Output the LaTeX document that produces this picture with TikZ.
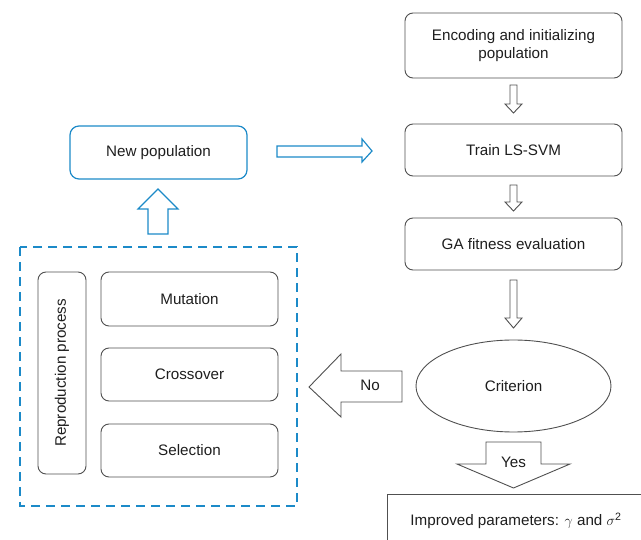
\documentclass[tikz,border=0pt]{standalone}
\usepackage{fontspec}
\setmainfont{Liberation Sans}
\usetikzlibrary{shapes.geometric}
\definecolor{bluec}{HTML}{1C8AC8}
\definecolor{grayc}{HTML}{505050}
\definecolor{txtc}{HTML}{1E1E1E}
\begin{document}
\begin{tikzpicture}[x=1pt,y=-1pt,
  every node/.style={text=txtc,font=\fontsize{15.2}{18.5}\selectfont},
  gbox/.style={draw=grayc,line width=0.9pt,rounded corners=8pt,inner sep=0pt},
  bbox/.style={draw=bluec,line width=1.2pt,rounded corners=9pt,inner sep=0pt},
  garrow/.style={draw=grayc,line width=0.9pt,fill=white,line join=miter},
  barrow/.style={draw=bluec,line width=1.2pt,fill=white,line join=miter}]
\useasboundingbox (0,0) rectangle (641,540);
\clip (0,0) rectangle (641,540);
% right column
\node[gbox,minimum width=217pt,minimum height=65pt,align=center] (enc) at (513.5,45.5) {Encoding and initializing\\population};
\node[gbox,minimum width=217pt,minimum height=52pt] (train) at (513.5,150) {Train LS-SVM};
\node[gbox,minimum width=217pt,minimum height=52pt] (ga) at (513.5,244) {GA fitness evaluation};
\node[ellipse,draw=grayc,line width=0.9pt,minimum width=195pt,minimum height=92pt,inner sep=0pt] (crit) at (513.5,386) {Criterion};
\node[draw=grayc,line width=0.9pt,minimum width=280pt,minimum height=70pt,inner sep=0pt,anchor=north west] (imp) at (387,494) {};
\node at (516,521) {Improved parameters: $\gamma$ and $\sigma$\textsuperscript{2}};
% small down arrows
\draw[garrow] (510,85) -- (517,85) -- (517,104) -- (522,104) -- (513.5,113) -- (505,104) -- (510,104) -- cycle;
\draw[garrow] (510,185) -- (517,185) -- (517,202) -- (522,202) -- (513.5,211) -- (505,202) -- (510,202) -- cycle;
\draw[garrow] (510,280) -- (517,280) -- (517,318) -- (522,318) -- (513.5,328) -- (505,318) -- (510,318) -- cycle;
% yes arrow
\draw[garrow] (486,442) -- (541,442) -- (541,464) -- (570,464) -- (513.5,488) -- (457,464) -- (486,464) -- cycle;
\node (yes) at (513.5,462) {Yes};
% no arrow
\draw[garrow] (402,371) -- (402,402) -- (341,402) -- (341,417) -- (309,387) -- (341,354) -- (341,371) -- cycle;
\node (no) at (370,385) {No};
% left side
\node[bbox,minimum width=177pt,minimum height=53pt] (newp) at (158.5,152.5) {New population};
\draw[barrow] (277,146) -- (362,146) -- (362,139) -- (372,151) -- (362,162) -- (362,157) -- (277,157) -- cycle;
\draw[barrow] (148,234) -- (148,209) -- (138,209) -- (158,189) -- (178,209) -- (168,209) -- (168,234) -- cycle;
\draw[draw=bluec,line width=1.2pt,dash pattern=on 9pt off 6pt] (20,247) rectangle (297,506);
\node[gbox,minimum width=48pt,minimum height=202pt] (rep) at (62,373) {};
\node[rotate=90] at (rep.center) {Reproduction process};
\node[gbox,minimum width=177pt,minimum height=54pt] (mut) at (189.5,299) {Mutation};
\node[gbox,minimum width=177pt,minimum height=53pt] (cross) at (189.5,374.5) {Crossover};
\node[gbox,minimum width=177pt,minimum height=53pt] (sel) at (189.5,450.5) {Selection};
\end{tikzpicture}
\end{document}
